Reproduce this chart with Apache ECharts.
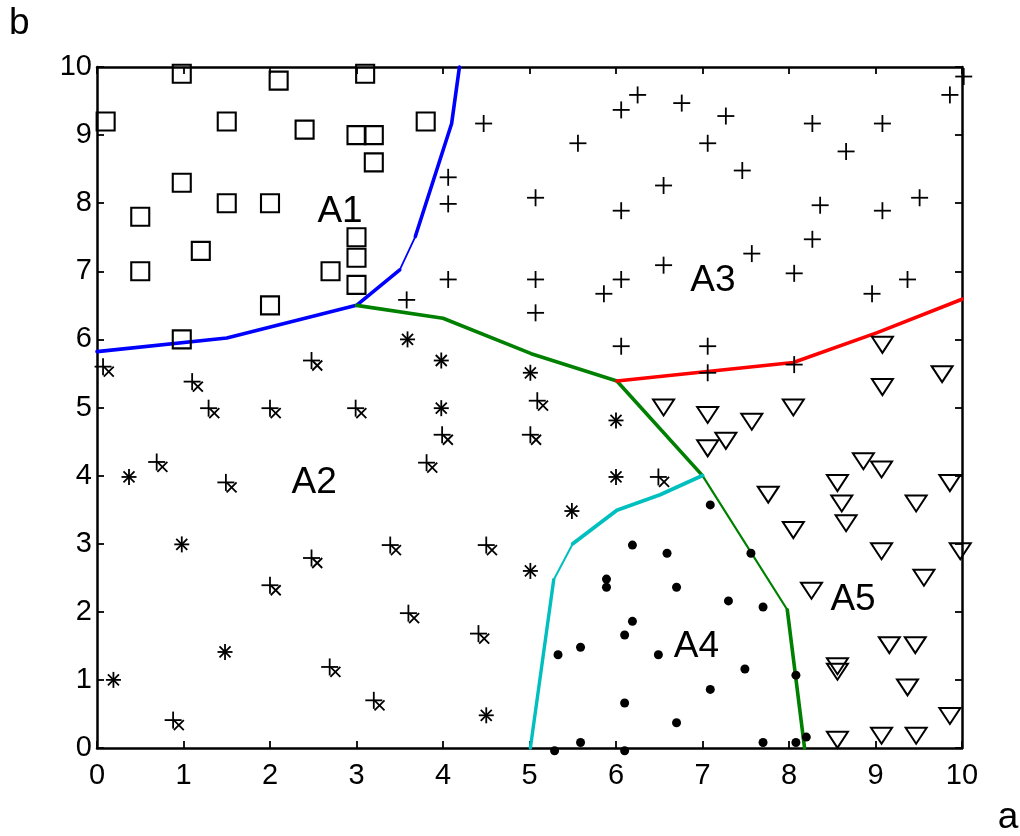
<!DOCTYPE html>
<html>
<head>
<meta charset="utf-8">
<script src="https://cdn.jsdelivr.net/npm/echarts@6.0.0/dist/echarts.min.js"></script>
<style>
  html, body { margin: 0; padding: 0; background: #fff; }
  #chart { width: 1020px; height: 836px; }
</style>
</head>
<body>
<div id="chart"></div>
<script>
// Class samples in the (a, b) feature plane
const squarePts = [
  [0.1, 9.2], [0.98, 9.9], [2.1, 9.8], [3.1, 9.9], [1.5, 9.2], [2.4, 9.08],
  [3.0, 9.0], [3.2, 9.0], [3.2, 8.6], [3.8, 9.2], [0.98, 8.3], [0.5, 7.8],
  [1.5, 8.0], [2.0, 8.0], [1.2, 7.3], [0.5, 7.0], [2.7, 7.0], [3.0, 7.5],
  [3.0, 7.2], [3.0, 6.8], [2.0, 6.5], [0.98, 6.0]
];
const plusPts = [
  [4.47, 9.17], [5.56, 8.88], [6.06, 9.37], [6.25, 9.59], [6.76, 9.47], [7.27, 9.28],
  [7.06, 8.88], [8.27, 9.17], [9.08, 9.17], [9.86, 9.59], [10.02, 9.86], [8.66, 8.76],
  [4.06, 8.38], [4.06, 7.99], [7.46, 8.48], [6.55, 8.26], [5.07, 8.08], [6.06, 7.89],
  [8.36, 7.97], [9.08, 7.89], [9.51, 8.08], [8.27, 7.47], [7.57, 7.26], [6.55, 7.09],
  [4.06, 6.88], [5.07, 6.88], [6.06, 6.88], [5.86, 6.67], [8.06, 6.97], [9.37, 6.88],
  [8.96, 6.67], [5.07, 6.39], [6.06, 5.9], [7.06, 5.9], [7.06, 5.51], [8.06, 5.63],
  [3.58, 6.58]
];
const plusCrossPts = [
  [0.07, 5.6], [1.1, 5.38], [1.29, 4.99], [2.0, 4.99], [2.99, 4.99], [2.48, 5.69],
  [0.69, 4.2], [1.49, 3.9], [3.99, 4.6], [3.81, 4.19], [5.01, 4.6], [5.09, 5.1],
  [3.39, 2.98], [4.5, 2.98], [2.48, 2.79], [2.0, 2.39], [3.6, 1.98], [4.41, 1.68],
  [2.69, 1.19], [3.2, 0.7], [0.88, 0.41], [6.49, 3.98]
];
const starPts = [
  [3.59, 6.0], [3.98, 5.69], [5.01, 5.51], [3.98, 4.99], [0.37, 3.98], [0.98, 2.99],
  [5.01, 2.6], [1.48, 1.41], [0.19, 1.0], [4.5, 0.48], [6.0, 4.81], [6.0, 3.98],
  [5.49, 3.48]
];
const dotPts = [
  [7.09, 3.57], [6.19, 2.98], [6.59, 2.86], [7.56, 2.86], [5.89, 2.48], [5.89, 2.36],
  [6.7, 2.36], [7.3, 2.16], [7.7, 2.07], [6.19, 1.86], [6.1, 1.66], [5.33, 1.37],
  [5.59, 1.48], [6.49, 1.37], [7.49, 1.16], [8.08, 1.07], [7.09, 0.86], [6.1, 0.66],
  [6.7, 0.37], [5.59, 0.08], [5.29, -0.04], [6.1, -0.04], [7.7, 0.08], [8.08, 0.08],
  [8.2, 0.16]
];
const trianglePts = [
  [9.77, 5.49], [9.08, 5.3], [9.08, 5.92], [6.55, 5.0], [7.06, 4.89], [7.57, 4.79],
  [8.05, 5.0], [7.27, 4.51], [7.06, 4.4], [8.86, 4.21], [9.07, 4.09], [8.56, 3.89],
  [9.86, 3.89], [7.76, 3.72], [8.61, 3.59], [9.47, 3.59], [8.66, 3.3], [8.05, 3.2],
  [9.07, 2.89], [9.98, 2.89], [9.56, 2.5], [8.26, 2.31], [9.16, 1.51], [9.46, 1.51],
  [8.56, 1.2], [8.56, 1.12], [9.37, 0.89], [9.86, 0.47], [9.07, 0.18], [9.47, 0.18],
  [8.56, 0.12]
];

// Decision boundaries between regions (thick / thin pieces)
const blueA = [[0, 5.82], [1.5, 6.02], [3.0, 6.5], [3.5, 7.02]];
const blueB = [[3.5, 7.02], [3.68, 7.51]];
const blueC = [[3.68, 7.51], [4.1, 9.17], [4.19, 10.0]];
const greenA = [[3.0, 6.5], [4.0, 6.31], [5.02, 5.79], [6.01, 5.39], [7.0, 4.0]];
const greenB = [[7.0, 4.0], [7.98, 2.03]];
const greenC = [[7.98, 2.03], [8.18, 0]];
const redA = [[6.01, 5.39], [8.05, 5.66], [9.02, 6.1], [10.0, 6.59]];
const cyanA = [[7.0, 4.0], [6.51, 3.72], [6.01, 3.49], [5.5, 3.0]];
const cyanB = [[5.5, 3.0], [5.28, 2.47]];
const cyanC = [[5.28, 2.47], [5.01, 0]];

// Region names and where they sit
const regionNames = ['A1', 'A2', 'A3', 'A4', 'A5'];
const regionX = [2.81, 2.51, 7.12, 6.93, 8.74];
const regionY = [7.87, 3.89, 6.86, 1.49, 2.17];

const FONT = '"Liberation Sans", Arial, Helvetica, sans-serif';
const INK = '#000';
const STROKE = 1.8;

function seg(x1, y1, x2, y2, w) {
  return { type: 'line', shape: { x1, y1, x2, y2 }, style: { stroke: INK, lineWidth: w || STROKE } };
}

function glyphSeries(data, draw) {
  return {
    type: 'custom',
    data: data,
    clip: false,
    z: 5,
    encode: { x: 0, y: 1 },
    renderItem: function (params, api) {
      const p = api.coord([api.value(0), api.value(1)]);
      return draw(p[0], p[1]);
    }
  };
}

const drawSquare = (x, y) => ({
  type: 'rect', shape: { x: x - 9, y: y - 9, width: 18, height: 18 },
  style: { fill: 'none', stroke: INK, lineWidth: 2.1 }
});
const drawPlus = (x, y) => ({
  type: 'group', children: [seg(x - 8.5, y, x + 8.5, y), seg(x, y - 8.5, x, y + 8.5)]
});
const drawPlusCross = (x, y) => {
  const cx = x + 5.7, cy = y + 5;
  return {
    type: 'group', children: [
      seg(x - 8.5, y, x + 8.5, y), seg(x, y - 8.5, x, y + 8.5),
      seg(cx - 5, cy - 5, cx + 5, cy + 5), seg(cx - 5, cy + 5, cx + 5, cy - 5)
    ]
  };
};
const drawStar = (x, y) => ({
  type: 'group', children: [
    seg(x - 7.5, y, x + 7.5, y), seg(x, y - 8, x, y + 8),
    seg(x - 5.5, y - 5.5, x + 5.5, y + 5.5), seg(x - 5.5, y + 5.5, x + 5.5, y - 5.5)
  ]
});
const drawDot = (x, y) => ({
  type: 'circle', shape: { cx: x, cy: y, r: 4.5 }, style: { fill: INK }
});
const drawTriangle = (x, y) => ({
  type: 'polygon', shape: { points: [[x - 10.5, y - 8], [x + 10.5, y - 8], [x, y + 8]] },
  style: { fill: 'none', stroke: INK, lineWidth: 2 }
});

function boundary(data, color, width) {
  return {
    type: 'line', data: data, symbol: 'none', z: 3, clip: false,
    lineStyle: { color: color, width: width, cap: 'round', join: 'round' }
  };
}

const axisLine = { show: true, onZero: false, lineStyle: { color: INK, width: 2.5 } };
const axisTick = { show: true, inside: true, length: 7, lineStyle: { color: INK, width: 1.8 } };

function valueAxis(position, showLabels, margin) {
  return {
    type: 'value', min: 0, max: 10, interval: 1, position: position,
    axisLine: axisLine, axisTick: axisTick, splitLine: { show: false },
    axisLabel: { show: showLabels, color: INK, fontSize: 29, fontFamily: FONT, margin: margin }
  };
}

const chart = echarts.init(document.getElementById('chart'), null, { renderer: 'canvas' });
chart.setOption({
  animation: false,
  backgroundColor: '#fff',
  grid: { left: 97, right: 58, top: 67, bottom: 88, containLabel: false },
  xAxis: [valueAxis('bottom', true, 13), valueAxis('top', false, 8)],
  yAxis: [valueAxis('left', true, 5), valueAxis('right', false, 8)],
  graphic: [
    { type: 'text', x: 9, y: 24, style: { text: 'b', font: '37px ' + FONT, fill: INK, align: 'left', verticalAlign: 'middle' } },
    { type: 'text', x: 1008, y: 818, style: { text: 'a', font: '37px ' + FONT, fill: INK, align: 'center', verticalAlign: 'middle' } }
  ],
  series: [
    boundary(blueA, '#0000ff', 3.6), boundary(blueB, '#0000ff', 1.8), boundary(blueC, '#0000ff', 3.6),
    boundary(greenA, '#008000', 3.6), boundary(greenB, '#008000', 2.2), boundary(greenC, '#008000', 3.6),
    boundary(redA, '#ff0000', 3.6),
    boundary(cyanA, '#00bfbf', 3.8), boundary(cyanB, '#00bfbf', 2), boundary(cyanC, '#00bfbf', 3.4),
    glyphSeries(squarePts, drawSquare),
    glyphSeries(plusPts, drawPlus),
    glyphSeries(plusCrossPts, drawPlusCross),
    glyphSeries(starPts, drawStar),
    glyphSeries(dotPts, drawDot),
    glyphSeries(trianglePts, drawTriangle),
    {
      type: 'custom',
      data: regionX.map((x, i) => [x, regionY[i]]),
      clip: false,
      z: 6,
      encode: { x: 0, y: 1 },
      renderItem: function (params, api) {
        const p = api.coord([api.value(0), api.value(1)]);
        return {
          type: 'text', x: p[0], y: p[1],
          style: { text: regionNames[params.dataIndex], font: '37px ' + FONT, fill: INK, align: 'center', verticalAlign: 'middle' }
        };
      }
    }
  ]
});
</script>
</body>
</html>
